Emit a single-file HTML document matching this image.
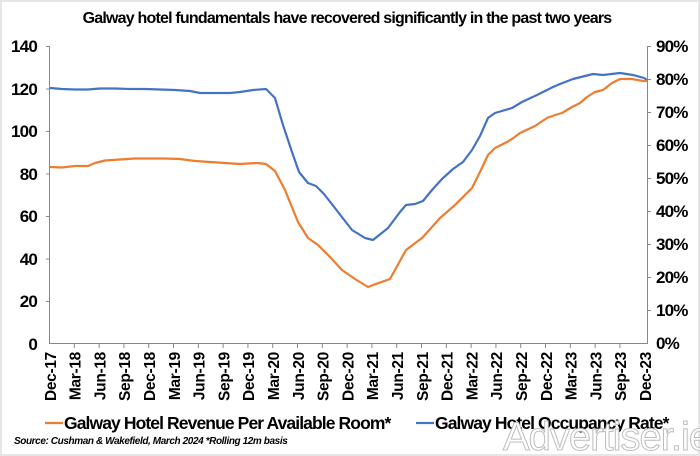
<!DOCTYPE html>
<html><head><meta charset="utf-8"><style>
html,body{margin:0;padding:0;background:#fff}
svg{display:block}
text{font-family:"Liberation Sans",sans-serif}
</style></head><body>
<svg width="700" height="456" viewBox="0 0 700 456" xmlns="http://www.w3.org/2000/svg">
<rect x="0" y="0" width="700" height="456" fill="#fff"/>
<rect x="0.5" y="0.5" width="699" height="455" fill="none" stroke="#e6e6e6" stroke-width="3"/>
<text x="347" y="23" text-anchor="middle" font-size="16" font-weight="bold" letter-spacing="-0.8">Galway hotel fundamentals have recovered significantly in the past two years</text>
<g stroke="#888" stroke-width="1" fill="none">
<path d="M49.5 46 V343.5 H647.5 V46"/>
<path d="M46 46.5h4M46 89h4M46 131.5h4M46 174h4M46 216.5h4M46 259h4M46 301.5h4"/>
<path d="M647 46.5h4M647 79.5h4M647 112.5h4M647 145.5h4M647 178.5h4M647 211.5h4M647 244.5h4M647 277.5h4M647 310.5h4"/>
<path d="M74.3 343v5M99.1 343v5M123.9 343v5M148.7 343v5M173.5 343v5M198.3 343v5M223.1 343v5M247.9 343v5M272.7 343v5M297.5 343v5M322.3 343v5M347.1 343v5M371.9 343v5M396.7 343v5M421.5 343v5M446.3 343v5M471.1 343v5M495.9 343v5M520.7 343v5M545.5 343v5M570.3 343v5M595.1 343v5M619.9 343v5"/>
</g>
<g font-size="17" font-weight="bold" text-anchor="end" letter-spacing="-0.8">
<text x="37" y="52">140</text><text x="37" y="95">120</text><text x="37" y="137">100</text>
<text x="37" y="180">80</text><text x="37" y="222">60</text><text x="37" y="265">40</text>
<text x="37" y="307">20</text><text x="37" y="350">0</text>
</g>
<g font-size="17" font-weight="bold" text-anchor="start" letter-spacing="-0.8">
<text x="656" y="52">90%</text><text x="656" y="85">80%</text><text x="656" y="118">70%</text>
<text x="656" y="151">60%</text><text x="656" y="184">50%</text><text x="656" y="217">40%</text>
<text x="656" y="250">30%</text><text x="656" y="283">20%</text><text x="656" y="316">10%</text>
<text x="656" y="349">0%</text>
</g>
<g font-size="15.5" font-weight="bold" text-anchor="end" letter-spacing="-0.3">
<text transform="translate(56,352) rotate(-90)">Dec-17</text>
<text transform="translate(80.6,352) rotate(-90)">Mar-18</text>
<text transform="translate(105.4,352) rotate(-90)">Jun-18</text>
<text transform="translate(130.2,352) rotate(-90)">Sep-18</text>
<text transform="translate(155,352) rotate(-90)">Dec-18</text>
<text transform="translate(179.8,352) rotate(-90)">Mar-19</text>
<text transform="translate(204.6,352) rotate(-90)">Jun-19</text>
<text transform="translate(229.4,352) rotate(-90)">Sep-19</text>
<text transform="translate(254.2,352) rotate(-90)">Dec-19</text>
<text transform="translate(279,352) rotate(-90)">Mar-20</text>
<text transform="translate(303.8,352) rotate(-90)">Jun-20</text>
<text transform="translate(328.6,352) rotate(-90)">Sep-20</text>
<text transform="translate(353.4,352) rotate(-90)">Dec-20</text>
<text transform="translate(378.2,352) rotate(-90)">Mar-21</text>
<text transform="translate(403,352) rotate(-90)">Jun-21</text>
<text transform="translate(427.8,352) rotate(-90)">Sep-21</text>
<text transform="translate(452.6,352) rotate(-90)">Dec-21</text>
<text transform="translate(477.4,352) rotate(-90)">Mar-22</text>
<text transform="translate(502.2,352) rotate(-90)">Jun-22</text>
<text transform="translate(527,352) rotate(-90)">Sep-22</text>
<text transform="translate(551.8,352) rotate(-90)">Dec-22</text>
<text transform="translate(576.6,352) rotate(-90)">Mar-23</text>
<text transform="translate(601.4,352) rotate(-90)">Jun-23</text>
<text transform="translate(626.2,352) rotate(-90)">Sep-23</text>
<text transform="translate(651,352) rotate(-90)">Dec-23</text>
</g>
<polyline fill="none" stroke="#4472c4" stroke-width="2.2" stroke-linejoin="round" points="50,88 62,89 75,89.5 88,89.5 100,88.5 115,88.5 130,89 145,89 160,89.5 175,90 190,91 200,93 215,93 230,93 240,92 253,90 266,89 275,98 283,125 292,152 299,172 308,183 316,186 324,194 338,212 352,230 365,238 373,240 388,228 400,212 406,205 415,204 423,201 432,190 442,179 453,169 463,162 472,150 480,136 488,118 495,113 512,108 522,102 537,95 553,87 560,84 573,79 593,74 603,75 620,73 633,75 644,78 647,80"/>
<polyline fill="none" stroke="#ed7d31" stroke-width="2.2" stroke-linejoin="round" points="50,167 62,167.5 75,166 88,166 95,163 105,160.5 120,159.5 135,158.5 150,158.5 165,158.5 180,159 195,161 210,162 225,163 240,164 257,163 266,164 275,171 285,190 298,222 308,238 318,245 330,257 342,270 355,279 368,287 373,285 390,279 406,250 422,238 432,227 440,218 455,205 472,188 480,172 488,155 495,148 507,142 512,139 520,133 535,126 547,118 555,115 562,113 572,107 580,103 587,97 595,92 603,90 612,83 620,79 632,79 643,81 647,81"/>
<line x1="45" y1="423" x2="63" y2="423" stroke="#ed7d31" stroke-width="2.2"/>
<text x="64" y="429" font-size="17.5" font-weight="bold" letter-spacing="-0.9">Galway Hotel Revenue Per Available Room*</text>
<line x1="416" y1="423" x2="434" y2="423" stroke="#4472c4" stroke-width="2.2"/>
<text x="435" y="429" font-size="17.5" font-weight="bold" letter-spacing="-0.9">Galway Hotel Occupancy Rate*</text>
<text x="14" y="444" font-size="10" font-style="italic" font-weight="bold" letter-spacing="-0.4">Source: Cushman &amp; Wakefield, March 2024 *Rolling 12m basis</text>
<text x="503" y="450" font-size="40" fill="#fff" stroke="#bdbdbd" stroke-width="1" font-family="Liberation Serif,serif" letter-spacing="-1">Advertiser.ie</text>
</svg>
</body></html>
